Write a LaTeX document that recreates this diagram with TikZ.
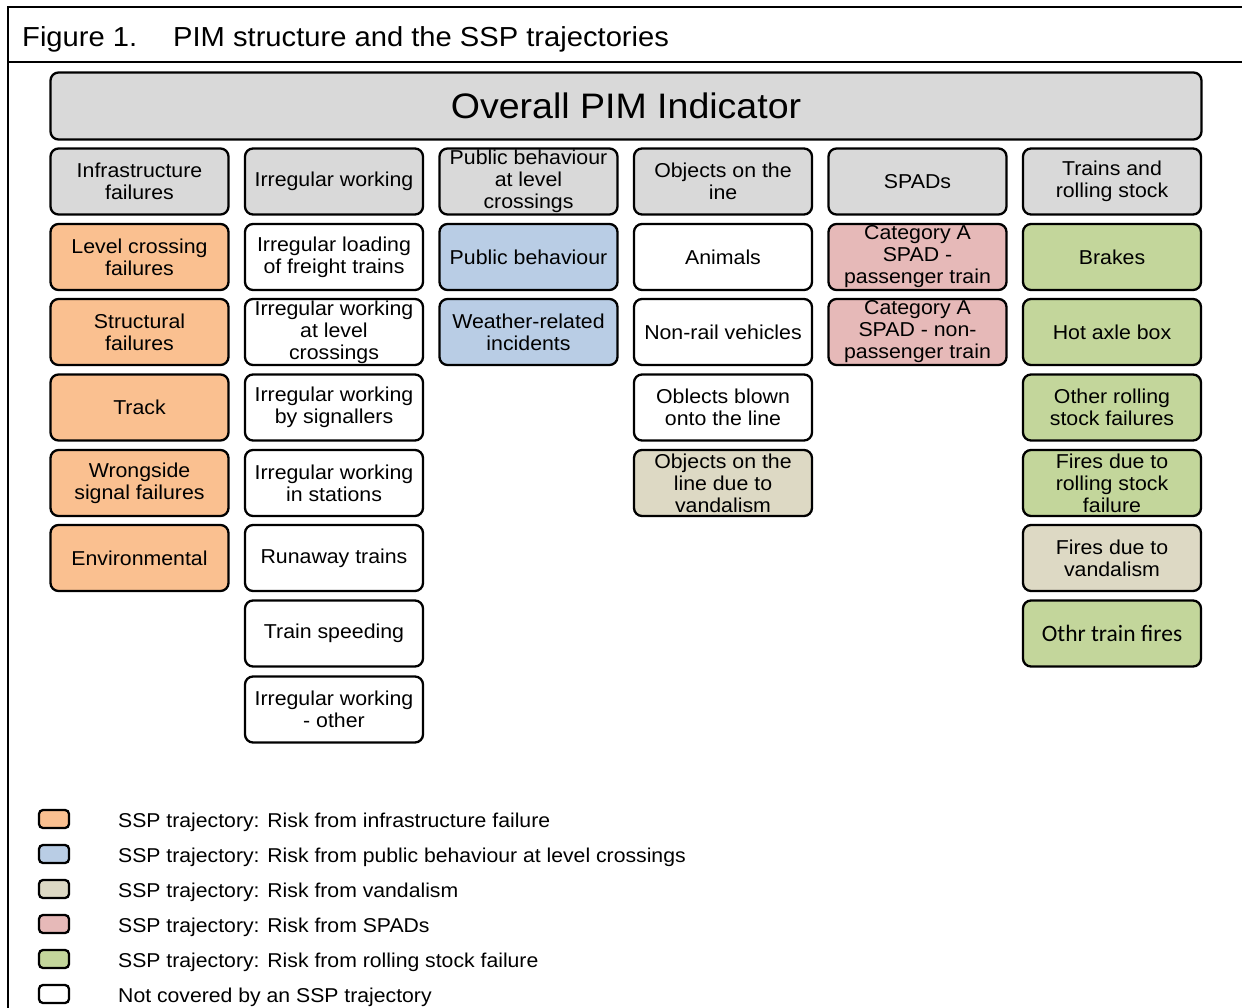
\documentclass[tikz,border=0pt]{standalone}
\usepackage{fontspec}
\setmainfont{Liberation Sans}[FakeStretch=1.06]
\newfontfamily\calibrifont{Carlito}
\definecolor{cgray}{HTML}{D9D9D9}
\definecolor{corange}{HTML}{FAC090}
\definecolor{cblue}{HTML}{B9CDE5}
\definecolor{ctan}{HTML}{DDD9C4}
\definecolor{cpink}{HTML}{E6B9B8}
\definecolor{cgreen}{HTML}{C3D69B}
\tikzset{
  cell/.style={draw=black, rounded corners=8pt, line width=2.3pt, minimum width=178pt, minimum height=66pt,
    inner sep=0pt, align=center, font=\fontsize{20.1}{22}\selectfont},
  grayc/.style={cell, fill=cgray},
  orangec/.style={cell, fill=corange},
  bluec/.style={cell, fill=cblue},
  tanc/.style={cell, fill=ctan},
  pinkc/.style={cell, fill=cpink},
  greenc/.style={cell, fill=cgreen},
  whitec/.style={cell, fill=white},
  legbox/.style={draw=black, rounded corners=4pt, line width=2.3pt, minimum width=30pt, minimum height=18pt, inner sep=0pt},
  legtext/.style={anchor=base west, inner sep=0pt, font=\fontsize{20}{22}\selectfont},
  frameline/.style={line width=2pt},
}
\begin{document}
\begin{tikzpicture}[x=1pt,y=-1pt]
\useasboundingbox (0,0) rectangle (1242,1008);
% frame
\draw[frameline] (8,1008) -- (8,7) -- (1242,7);
\draw[frameline] (8,62) -- (1242,62);
\node[anchor=base west, inner sep=0pt, font=\fontsize{27.5}{32}\selectfont] (fig) at (22,47) {Figure 1.};
\node[anchor=base west, inner sep=0pt, font=\fontsize{27.5}{32}\selectfont] (title) at (173,47) {PIM structure and the SSP trajectories};
% overall
\node[cell, fill=cgray, minimum width=1151pt, minimum height=67pt, font=\fontsize{35.4}{40}\selectfont] (overall) at (626,106) {Overall PIM Indicator};
% column 1
\node[grayc]   (c1r0) at (139.5,181.5) {Infrastructure\\failures};
\node[orangec] (c1r1) at (139.5,257) {Level crossing\\failures};
\node[orangec] (c1r2) at (139.5,332) {Structural\\failures};
\node[orangec] (c1r3) at (139.5,407.5) {Track};
\node[orangec] (c1r4) at (139.5,483) {Wrongside\\signal failures};
\node[orangec] (c1r5) at (139.5,558) {Environmental};
% column 2
\node[grayc]  (c2r0) at (334,181.5) {Irregular working};
\node[whitec] (c2r1) at (334,257) {Irregular loading\\of freight trains};
\node[whitec] (c2r2) at (334,332) {Irregular working\\at level\\crossings};
\node[whitec] (c2r3) at (334,407.5) {Irregular working\\by signallers};
\node[whitec] (c2r4) at (334,483) {Irregular working\\in stations};
\node[whitec] (c2r5) at (334,558) {Runaway trains};
\node[whitec] (c2r6) at (334,633.5) {Train speeding};
\node[whitec] (c2r7) at (334,709.5) {Irregular working\\- other};
% column 3
\node[grayc] (c3r0) at (528.5,181.5) {Public behaviour\\at level\\crossings};
\node[bluec] (c3r1) at (528.5,257) {Public behaviour};
\node[bluec] (c3r2) at (528.5,332) {Weather-related\\incidents};
% column 4
\node[grayc]  (c4r0) at (723,181.5) {Objects on the\\ine};
\node[whitec] (c4r1) at (723,257) {Animals};
\node[whitec] (c4r2) at (723,332) {Non-rail vehicles};
\node[whitec] (c4r3) at (723,407.5) {Oblects blown\\onto the line};
\node[tanc]   (c4r4) at (723,483) {Objects on the\\line due to\\vandalism};
% column 5
\node[grayc] (c5r0) at (917.5,181.5) {SPADs};
\node[pinkc] (c5r1) at (917.5,257) {Category A\\SPAD -\\passenger train};
\node[pinkc] (c5r2) at (917.5,332) {Category A\\SPAD - non-\\passenger train};
% column 6
\node[grayc]  (c6r0) at (1112,181.5) {Trains and\\rolling stock};
\node[greenc] (c6r1) at (1112,257) {Brakes};
\node[greenc] (c6r2) at (1112,332) {Hot axle box};
\node[greenc] (c6r3) at (1112,407.5) {Other rolling\\stock failures};
\node[greenc] (c6r4) at (1112,483) {Fires due to\\rolling stock\\failure};
\node[tanc]   (c6r5) at (1112,558) {Fires due to\\vandalism};
\node[greenc, font=\calibrifont\fontsize{23.5}{26}\selectfont] (c6r6) at (1112,633.5) {Othr train fires};
% legend
\node[legbox, fill=corange] (l1) at (54,819) {};
\node[legbox, fill=cblue]   (l2) at (54,854) {};
\node[legbox, fill=ctan]    (l3) at (54,889) {};
\node[legbox, fill=cpink]   (l4) at (54,924) {};
\node[legbox, fill=cgreen]  (l5) at (54,959) {};
\node[legbox, fill=white]   (l6) at (54,994) {};
\node[legtext] (t1) at (118,827) {SSP trajectory: Risk from infrastructure failure};
\node[legtext] (t2) at (118,862) {SSP trajectory: Risk from public behaviour at level crossings};
\node[legtext] (t3) at (118,897) {SSP trajectory: Risk from vandalism};
\node[legtext] (t4) at (118,932) {SSP trajectory: Risk from SPADs};
\node[legtext] (t5) at (118,967) {SSP trajectory: Risk from rolling stock failure};
\node[legtext] (t6) at (118,1002) {Not covered by an SSP trajectory};
\end{tikzpicture}
\end{document}
